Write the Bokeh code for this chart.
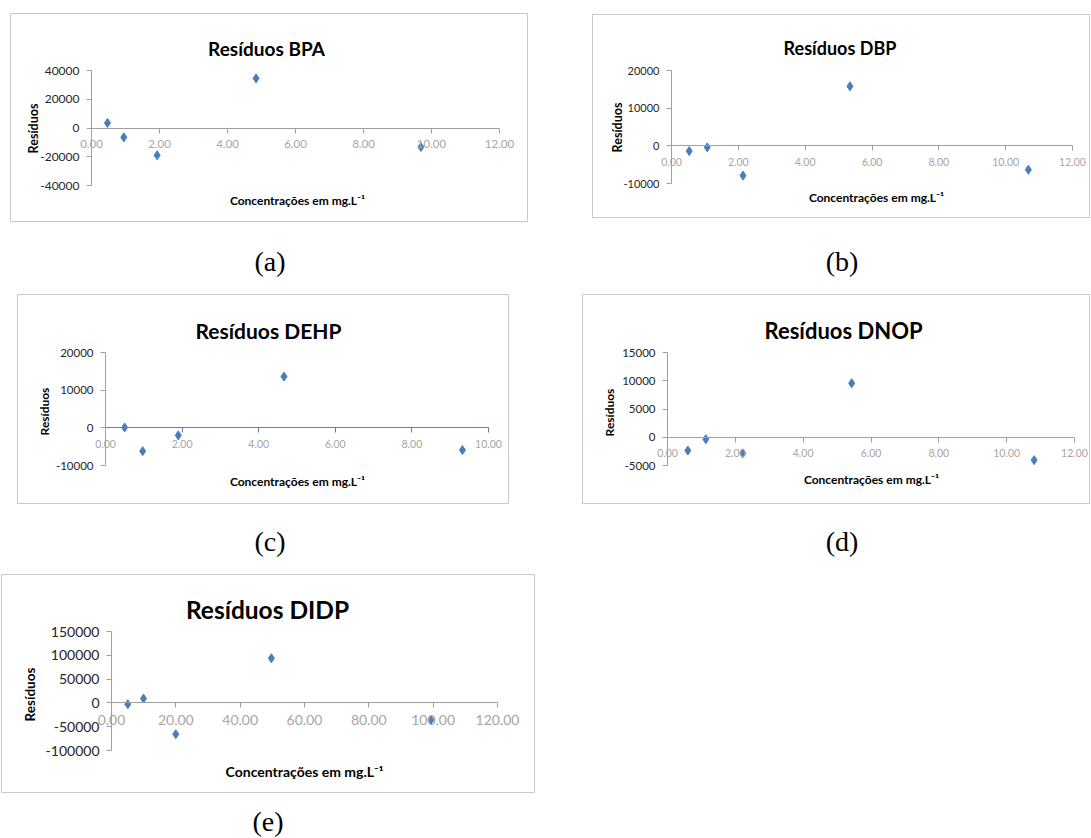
from bokeh.plotting import figure
from bokeh.layouts import column, row
from bokeh.models import Spacer, Div, Label, FixedTicker, NumeralTickFormatter, Range1d
from bokeh.embed import file_html
from bokeh.resources import INLINE
import math

# ---------------- data ----------------
bpa_conc = [0.47, 0.95, 1.93, 4.84, 9.69]
bpa_res = [3500, -6500, -19000, 34500, -13200]
bpa_xticks = [0, 2, 4, 6, 8, 10, 12]
bpa_yticks = [-40000, -20000, 0, 20000, 40000]

dbp_conc = [0.53, 1.07, 2.14, 5.34, 10.68]
dbp_res = [-1400, -400, -7900, 15800, -6350]
dbp_xticks = [0, 2, 4, 6, 8, 10, 12]
dbp_yticks = [-10000, 0, 10000, 20000]

dehp_conc = [0.50, 0.97, 1.90, 4.66, 9.32]
dehp_res = [100, -6200, -2000, 13600, -5900]
dehp_xticks = [0, 2, 4, 6, 8, 10]
dehp_yticks = [-10000, 0, 10000, 20000]

dnop_conc = [0.60, 1.13, 2.22, 5.43, 10.81]
dnop_res = [-2350, -350, -2850, 9550, -4050]
dnop_xticks = [0, 2, 4, 6, 8, 10, 12]
dnop_yticks = [-5000, 0, 5000, 10000, 15000]

didp_conc = [5.07, 9.94, 19.98, 49.7, 99.3]
didp_res = [-2800, 9100, -65800, 93800, -35700]
didp_xticks = [0, 20, 40, 60, 80, 100, 120]
didp_yticks = [-100000, -50000, 0, 50000, 100000, 150000]

titles = ["Resíduos BPA", "Resíduos DBP", "Resíduos DEHP", "Resíduos DNOP", "Resíduos DIDP"]
x_label = "Concentrações em mg.L⁻¹"
y_label = "Resíduos"
captions = ["(a)", "(b)", "(c)", "(d)", "(e)"]

FONT = "Lato"
MARKER = "#4a7ebb"
GREY = "#a0a0a0"


def panel(title, xs, ys, xticks, yticks, geo, style):
    # geo: figure page left/top, W, H, and the axes box (px inside the figure)
    fl, ft, W, H, pl, pr, pt, pb = geo
    xmin, xmax = xticks[0], xticks[-1]
    ymin, ymax = yticks[0], yticks[-1]
    kx = (xmax - xmin) / (pr - pl)
    ky = (ymax - ymin) / (pb - pt)
    xs0, xs1 = xmin - pl * kx, xmax + (W - pr) * kx
    ys0, ys1 = ymin - (H - pb) * ky, ymax + pt * ky

    p = figure(width=W, height=H, output_backend="svg", toolbar_location=None, tools="",
               x_range=Range1d(xs0, xs1), y_range=Range1d(ys0, ys1), min_border=0)
    p.grid.visible = False
    p.outline_line_color = "#c8c8c8"
    p.outline_line_width = 1
    p.background_fill_color = "white"
    p.border_fill_color = "white"

    p.scatter(xs, ys, marker="diamond", size=9, color=MARKER)

    xa = p.xaxis[0]
    xa.fixed_location = 0
    xa.bounds = (xmin, xmax)
    xa.ticker = FixedTicker(ticks=xticks)
    xa.formatter = NumeralTickFormatter(format="0.00")
    xa.axis_line_color = style["xaxis_color"]
    xa.major_tick_line_color = style["xaxis_color"]
    xa.major_tick_out = 5
    xa.major_tick_in = 0
    xa.minor_tick_line_color = None
    xa.major_label_text_color = "#a6a6a6"
    xa.major_label_text_font = FONT
    xa.major_label_text_font_size = style["xtick_fs"]
    xa.major_label_standoff = 7

    ya = p.yaxis[0]
    ya.fixed_location = xmin
    ya.bounds = (ymin, ymax)
    ya.ticker = FixedTicker(ticks=yticks)
    ya.formatter = NumeralTickFormatter(format="0")
    ya.axis_line_color = GREY
    ya.major_tick_line_color = GREY
    ya.major_tick_out = 5
    ya.major_tick_in = 0
    ya.minor_tick_line_color = None
    ya.major_label_text_color = "#262626"
    ya.major_label_text_font = FONT
    ya.major_label_text_font_size = style["ytick_fs"]
    ya.major_label_standoff = 7

    def to_data(px, py):
        return xs0 + (px - fl) * kx, ys1 - (py - ft) * ky

    tx, ty = to_data(*style["title_pos"])
    p.add_layout(Label(x=tx, y=ty, text=title,
                       text_font=FONT, text_font_style="bold",
                       text_font_size=style["title_fs"], text_align="center",
                       text_baseline="alphabetic", text_color="black"))
    lx, ly = to_data(*style["xlab_pos"])
    p.add_layout(Label(x=lx, y=ly, text=x_label,
                       text_font=FONT, text_font_style="bold",
                       text_font_size=style["xlab_fs"], text_align="center",
                       text_baseline="alphabetic", text_color="black"))
    yx, yy = to_data(*style["ylab_pos"])
    p.add_layout(Label(x=yx, y=yy, text=y_label,
                       angle=math.pi / 2, text_font=FONT, text_font_style="bold",
                       text_font_size=style["ylab_fs"], text_align="center",
                       text_baseline="middle", text_color="black"))
    return p


pa = panel(titles[0], bpa_conc, bpa_res, bpa_xticks, bpa_yticks,
           (10, 13, 518, 209, 81, 489, 57, 172),
           dict(xaxis_color=GREY, xtick_fs="11.5px", ytick_fs="12px", title_fs="19px",
                title_pos=(266, 47.5), xlab_pos=(297, 200), xlab_fs="12px",
                ylab_pos=(33, 128), ylab_fs="12.5px"))
pb = panel(titles[1], dbp_conc, dbp_res, dbp_xticks, dbp_yticks,
           (592, 14, 498, 204, 79, 480, 56, 169),
           dict(xaxis_color=GREY, xtick_fs="10.5px", ytick_fs="11px", title_fs="18px",
                title_pos=(839.5, 47.7), xlab_pos=(876, 197.3), xlab_fs="12px",
                ylab_pos=(616.7, 127), ylab_fs="12.5px"))
pc = panel(titles[2], dehp_conc, dehp_res, dehp_xticks, dehp_yticks,
           (17, 294, 492, 210, 88, 471, 58, 171),
           dict(xaxis_color="#4f81bd", xtick_fs="10.5px", ytick_fs="11.5px", title_fs="21px",
                title_pos=(268, 330), xlab_pos=(297, 481), xlab_fs="12px",
                ylab_pos=(44, 411), ylab_fs="12px"))
pd = panel(titles[3], dnop_conc, dnop_res, dnop_xticks, dnop_yticks,
           (582, 294, 508, 210, 85, 492, 58, 171),
           dict(xaxis_color=GREY, xtick_fs="10.5px", ytick_fs="11.5px", title_fs="22px",
                title_pos=(843, 330), xlab_pos=(871, 479), xlab_fs="12px",
                ylab_pos=(609, 412), ylab_fs="12px"))
pe = panel(titles[4], didp_conc, didp_res, didp_xticks, didp_yticks,
           (1, 574, 534, 219, 110, 496, 57, 176),
           dict(xaxis_color=GREY, xtick_fs="14px", ytick_fs="14px", title_fs="24.5px",
                title_pos=(267, 609), xlab_pos=(304, 771), xlab_fs="14px",
                ylab_pos=(29, 694), ylab_fs="13.5px"))

CW = 120


def cap(text, h, pad):
    html = ('<div style="width:%dpx;font-family:\'Liberation Serif\',serif;font-size:28px;'
            'line-height:28px;text-align:center;color:black;padding-top:%dpx">%s</div>'
            % (CW, pad, text))
    return Div(text=html, width=CW, height=h, margin=0)


row1 = row(Spacer(width=10), column(Spacer(height=13), pa), Spacer(width=64),
           column(Spacer(height=14), pb))
cap1 = row(Spacer(width=270 - CW // 2), cap(captions[0], 72, 26),
           Spacer(width=(842 - CW // 2) - (270 + CW // 2)), cap(captions[1], 72, 26))
row2 = row(Spacer(width=17), pc, Spacer(width=73), pd)
cap2 = row(Spacer(width=270 - CW // 2), cap(captions[2], 70, 24),
           Spacer(width=(842 - CW // 2) - (270 + CW // 2)), cap(captions[3], 70, 24))
row3 = row(Spacer(width=1), pe)
cap3 = row(Spacer(width=268 - CW // 2), cap(captions[4], 45, 15))

layout = column(row1, cap1, row2, cap2, row3, cap3)

open("out.html", "w").write(file_html(layout, INLINE))
